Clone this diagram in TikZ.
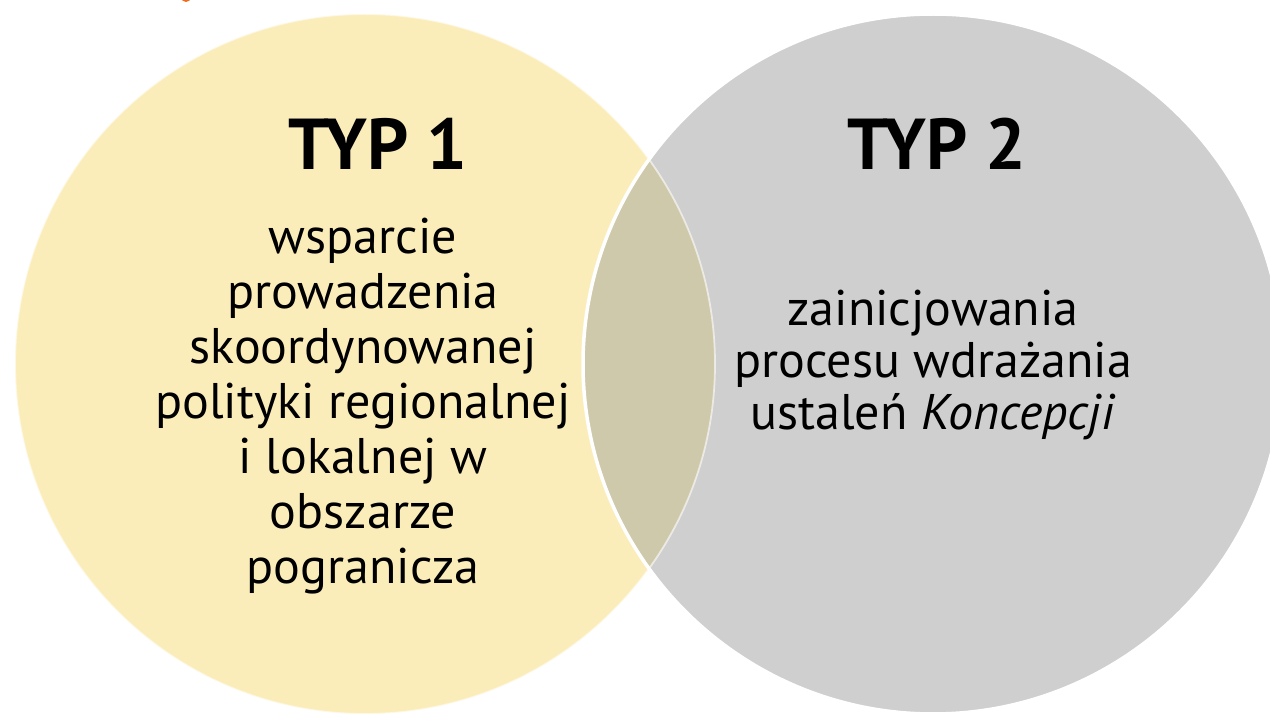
\documentclass[tikz,border=0pt]{standalone}
\usepackage{fontspec}
\setmainfont{PT Sans}
\definecolor{jaune}{HTML}{FBEDBA}
\definecolor{gris}{HTML}{CFCFCF}
\definecolor{lentille}{HTML}{CFC9AB}
\definecolor{orangec}{HTML}{F26B1D}
\tikzset{
  titre/.style={anchor=base, font=\bfseries\fontsize{41}{44}\selectfont},
  texte/.style={anchor=base, align=center, font=\fontsize{28.5}{31.3}\selectfont},
}
\begin{document}
\begin{tikzpicture}[x=0.02cm,y=-0.02cm]
            \clip (0,0) rectangle (1270,715);
            \def\cercleA{(365,364) circle [radius=350]}
            \def\cercleB{(933,364) circle [radius=350]}
            \fill [white](0,0) rectangle (1270,715);
            \fill [orangec](186,-3) circle [radius=5];
            \fill [jaune]\cercleA ;
            \fill [gris]\cercleB ;
            \begin{scope}
              \clip \cercleA;
              \fill [lentille]\cercleB;%intersection des deux cercles
            \end{scope}
            \draw [white, line width=1pt, opacity=.6]\cercleA ;
            \draw [white, line width=2pt]\cercleB ;
            \node [titre] (typ1) at (378,170) {TYP 1};
            \node [titre] (typ2) at (937,170) {TYP 2};
            \node [texte] (opis1) at (363,583) {wsparcie\\prowadzenia\\skoordynowanej\\polityki regionalnej\\i lokalnej w\\obszarze\\pogranicza};%ancre = derniere ligne
            \node [texte, font=\fontsize{28.5}{29.6}\selectfont] (opis2) at (933,430) {zainicjowania\\procesu wdrażania\\ustaleń \textit{Koncepcji}};
        \end{tikzpicture}
\end{document}
